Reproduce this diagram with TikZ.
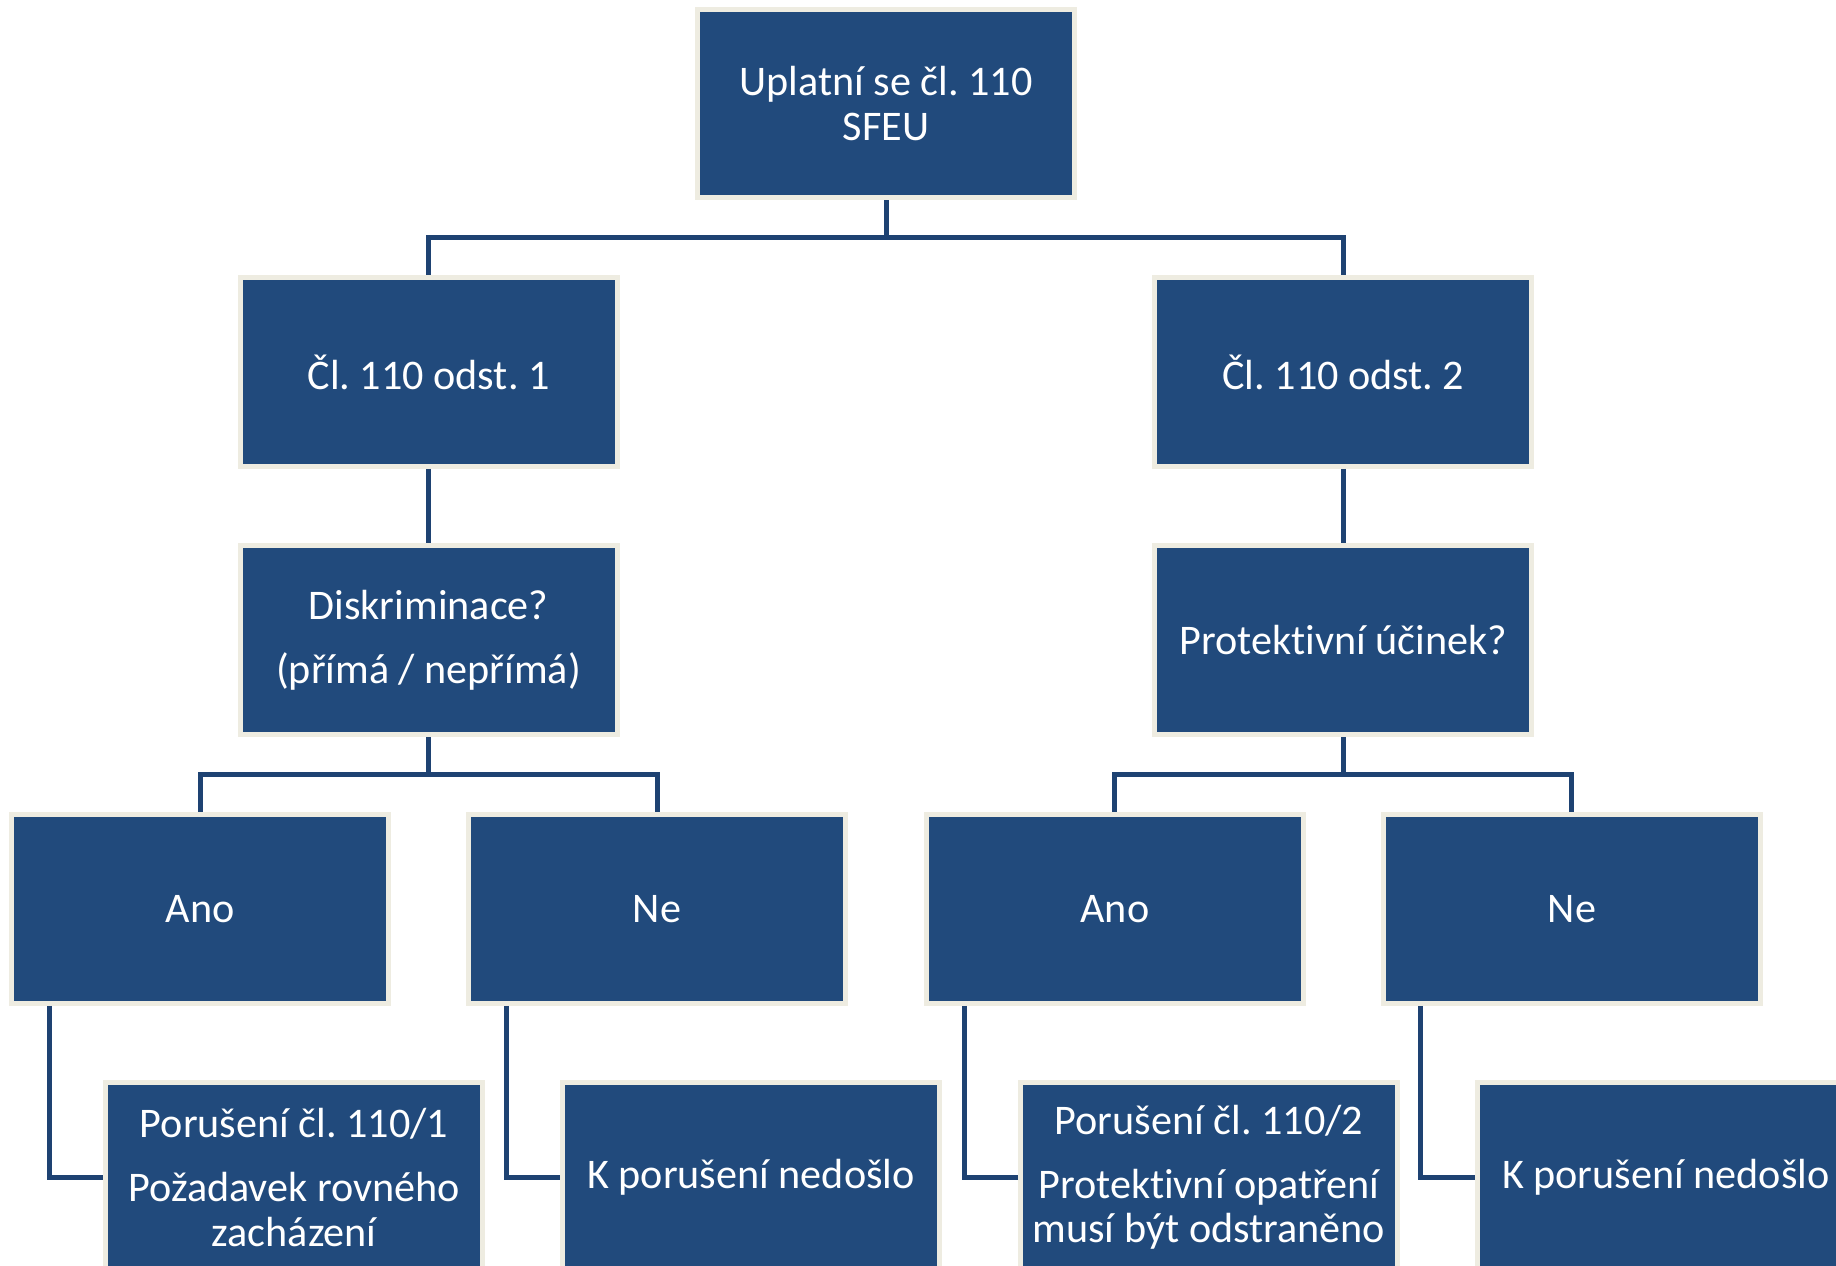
\documentclass[tikz,border=0pt]{standalone}
\usepackage{fontspec}
\setmainfont{Carlito}[Ligatures=NoCommon]
\usepackage{xcolor}
\usepackage{tikz}
\frenchspacing
\definecolor{boxblue}{RGB}{33,74,124}
\definecolor{boxcream}{RGB}{238,236,225}
\definecolor{lineblue}{RGB}{30,66,114}

\begin{document}
\begin{tikzpicture}[
    x=0.02cm, y=-0.02cm,
    level distance=5.37cm,
    level 1/.style={sibling distance=18.3cm},
    level 3/.style={sibling distance=9.14cm},
    level 4/.style={every child node/.style={xshift=1.88cm}, edge from parent path={(\tikzparentnode.south west) ++(40,0) |- (\tikzchildnode.west)}},
    edge from parent/.style={draw=lineblue, line width=0.1cm},
    edge from parent path={(\tikzparentnode.south) -- ++(0,37) -| (\tikzchildnode.north)},
    every node/.style={rectangle, fill=boxblue, draw=boxcream, line width=0.1cm, minimum width=7.54cm, minimum height=3.78cm, inner sep=0pt, text=white, align=center, font=\fontsize{24}{25.5}\selectfont}
]
\clip (0,0) rectangle (1836,1266);
\node (uplatni) at (886,103.5) {Uplatní se čl. 110\\SFEU}
    child {node (odst1) {Čl. 110 odst. 1}
        child {node (diskriminace) {Diskriminace?\\[11pt](přímá / nepřímá)}
            child {node (ano1) {Ano}
                child {node (poruseni1) {Porušení čl. 110/1\\[11pt]Požadavek rovného\\zacházení}}
            }
            child {node (ne1) {Ne}
                child {node (nedoslo1) {K porušení nedošlo}}
            }
        }
    }
    child {node (odst2) {Čl. 110 odst. 2}
        child {node (protektivni) {Protektivní účinek?}
            child {node (ano2) {Ano}
                child {node (poruseni2) {Porušení čl. 110/2\\[11pt]Protektivní opatření\\musí být odstraněno}}
            }
            child {node (ne2) {Ne}
                child {node (nedoslo2) {K porušení nedošlo}}
            }
        }
    };
\end{tikzpicture}
\end{document}
